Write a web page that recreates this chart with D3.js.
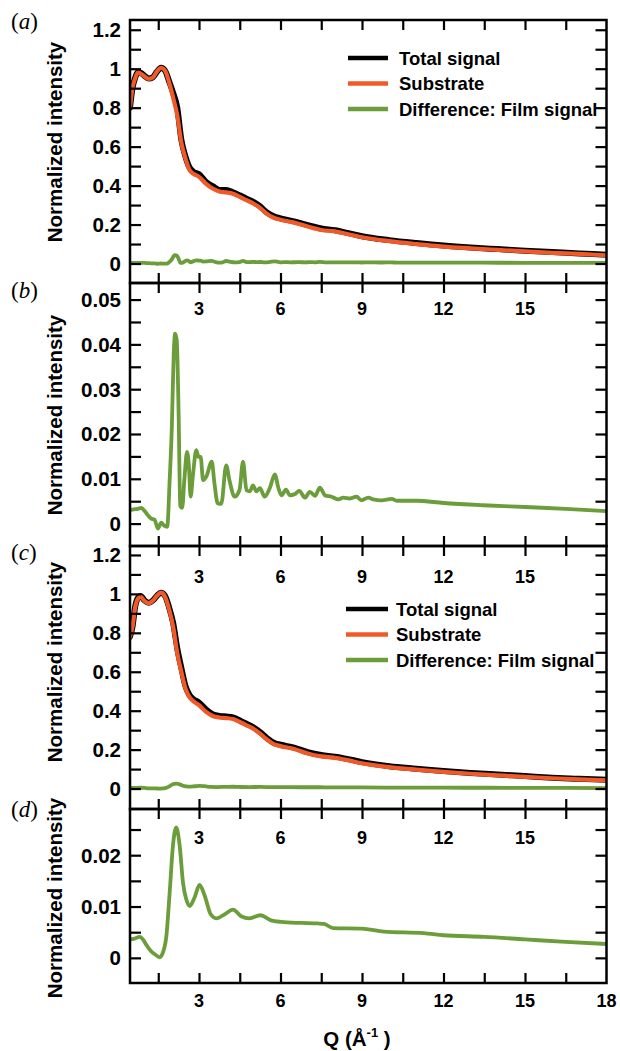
<!DOCTYPE html>
<meta charset="utf-8">
<style>
    html, body { margin: 0; padding: 0; background: #fff; }
    svg { display: block; }
    text { font-family: "Liberation Sans", Arial, sans-serif; font-weight: bold; }
</style>
<body>
<svg width="620" height="1051"></svg>
<script src="https://cdn.jsdelivr.net/npm/d3@7"></script>
<script>
// Q grid for the full curves (panels a and c)
const qFull = [0.46, 0.55, 0.65, 0.75, 0.85, 1.0, 1.15, 1.3, 1.45, 1.6, 1.75, 1.9, 2.05, 2.2, 2.35, 2.5, 2.65, 2.8, 3.0, 3.25,
    3.5, 3.75, 4.0, 4.25, 4.5, 4.75, 5.0, 5.25, 5.5, 5.75, 6.0, 6.5, 7.0, 7.5, 8.0, 8.5, 9, 10, 11, 12, 13, 14, 15, 16, 17, 18];

const substrateA = [0.80, 0.90, 0.95, 0.98, 0.975, 0.96, 0.948, 0.955, 0.985, 1.005, 0.99, 0.93, 0.85, 0.76, 0.62, 0.54, 0.48, 0.46, 0.445, 0.41,
    0.385, 0.37, 0.365, 0.358, 0.342, 0.325, 0.308, 0.285, 0.255, 0.235, 0.225, 0.21, 0.19, 0.172, 0.165, 0.15, 0.135, 0.115, 0.1, 0.087, 0.078, 0.07, 0.062, 0.055, 0.049, 0.042];
const totalA = [0.80, 0.90, 0.953, 0.983, 0.979, 0.963, 0.95, 0.956, 0.984, 1.005, 0.99, 0.935, 0.875, 0.80, 0.635, 0.55, 0.493, 0.47, 0.458, 0.42,
    0.397, 0.378, 0.378, 0.366, 0.35, 0.333, 0.316, 0.293, 0.262, 0.243, 0.232, 0.216, 0.197, 0.18, 0.171, 0.156, 0.14, 0.12, 0.105, 0.092, 0.082, 0.074, 0.066, 0.059, 0.052, 0.045];

const substrateC = [0.78, 0.83, 0.93, 0.975, 0.985, 0.963, 0.952, 0.965, 0.99, 1.006, 0.985, 0.92, 0.83, 0.695, 0.6, 0.515, 0.47, 0.448, 0.428, 0.395,
    0.373, 0.365, 0.362, 0.357, 0.342, 0.325, 0.307, 0.282, 0.252, 0.228, 0.218, 0.203, 0.18, 0.165, 0.158, 0.145, 0.13, 0.11, 0.097, 0.086, 0.076, 0.068, 0.06, 0.053, 0.047, 0.042];
const totalC = [0.78, 0.83, 0.934, 0.979, 0.989, 0.966, 0.954, 0.966, 0.99, 1.006, 0.99, 0.93, 0.85, 0.72, 0.62, 0.527, 0.48, 0.459, 0.442, 0.407,
    0.382, 0.373, 0.37, 0.366, 0.35, 0.333, 0.315, 0.29, 0.259, 0.235, 0.225, 0.21, 0.187, 0.172, 0.164, 0.151, 0.136, 0.115, 0.102, 0.09, 0.08, 0.072, 0.064, 0.056, 0.05, 0.045];

// film (difference) signal, panel b
const qDiffB = [0.46, 0.6, 0.75, 0.88, 1.0, 1.1, 1.24, 1.36, 1.49, 1.61, 1.71, 1.83, 1.92, 2.0, 2.07, 2.12, 2.18, 2.25, 2.31, 2.38,
    2.46, 2.56, 2.63, 2.69, 2.78, 2.9, 2.98, 3.06, 3.15, 3.27, 3.47, 3.57, 3.69, 3.82, 4.0, 4.12, 4.31, 4.49, 4.62, 4.75,
    4.87, 4.99, 5.11, 5.24, 5.42, 5.61, 5.79, 5.92, 6.04, 6.2, 6.35, 6.53, 6.69, 6.9, 7.08, 7.27, 7.45, 7.64, 7.88, 8.13,
    8.31, 8.56, 8.8, 8.98, 9.23, 9.41, 9.72, 10.1, 10.28, 11, 12, 13.45, 15, 16.5, 18];
const diffB = [0.003, 0.0032, 0.0033, 0.0035, 0.0028, 0.002, 0.0011, 0.0009, -0.0011, 0.0002, -0.0004, -0.0007, 0.0097, 0.0216, 0.038, 0.0424, 0.041, 0.0245, 0.004, 0.0035,
    0.0097, 0.016, 0.0126, 0.006, 0.011, 0.0164, 0.0149, 0.0149, 0.0097, 0.0105, 0.0138, 0.0089, 0.0045, 0.0044, 0.013, 0.0097, 0.006, 0.0075, 0.0138, 0.0074,
    0.0072, 0.0085, 0.0072, 0.0079, 0.006, 0.008, 0.011, 0.008, 0.0063, 0.0076, 0.0063, 0.0066, 0.0073, 0.0058, 0.0071, 0.0062, 0.008, 0.0063, 0.006, 0.0054,
    0.0058, 0.0056, 0.006, 0.0052, 0.0058, 0.0054, 0.0052, 0.0055, 0.0051, 0.0051, 0.0046, 0.0041, 0.0037, 0.0033, 0.0028];

// film (difference) signal, panel d
const qDiffD = [0.46, 0.6, 0.82, 0.95, 1.04, 1.22, 1.4, 1.55, 1.67, 1.8, 1.92, 2.04, 2.16, 2.29, 2.41, 2.53, 2.66, 2.84, 3.02, 3.21,
    3.43, 3.64, 3.95, 4.25, 4.55, 4.86, 5.26, 5.65, 6.02, 6.75, 7.37, 7.6, 7.94, 9.0, 9.8, 11.27, 12, 13.5, 15, 16.5, 18];
const diffD = [0.0036, 0.0037, 0.0041, 0.0035, 0.0027, 0.0014, 0.0006, 0.0001, 0.001, 0.0043, 0.0127, 0.0218, 0.0254, 0.0218, 0.0147, 0.0114, 0.0101, 0.0118, 0.0142, 0.0121,
    0.0085, 0.0077, 0.0085, 0.0094, 0.0081, 0.0077, 0.0083, 0.0073, 0.007, 0.0068, 0.0067, 0.0066, 0.0058, 0.0057, 0.0051, 0.0048, 0.0044, 0.0041, 0.0036, 0.0031, 0.0027];

const xTickLabels = [3, 6, 9, 12, 15];
const xTickLabelsBottom = [3, 6, 9, 12, 15, 18];
const legendLabels = ["Total signal", "Substrate", "Difference: Film signal"];

const colors = { total: "#000000", substrate: "#f05a28", film: "#6b9d3a" };

const svg = d3.select("svg");
const left = 130, right = 606.5;
const x = d3.scaleLinear().domain([0.46, 18]).range([left, right]);
const xTicks = d3.range(1.5, 17, 1.5);

const panels = [
    { id: "a", top: 20, bottom: 283, domain: [-0.1, 1.25], major: d3.range(0, 1.21, 0.2), minor: d3.range(0.1, 1.2, 0.2),
      labelY: 29, titleY: 142, legendY: 58, legendX: 348, textX: 399,
      series: [[qFull, totalA, "total", 6], [qFull, substrateA, "substrate", 4.2], [qDiffB, diffB, "film", 3.8]] },
    { id: "b", top: 283, bottom: 546, domain: [-0.005, 0.0537], major: d3.range(0, 0.0501, 0.01), minor: d3.range(0.005, 0.05, 0.01),
      labelY: 298, titleY: 415, tickLabelY: 315,
      series: [[qDiffB, diffB, "film", 3.8]] },
    { id: "c", top: 546, bottom: 809, domain: [-0.105, 1.246], major: d3.range(0, 1.21, 0.2), minor: d3.range(0.1, 1.2, 0.2),
      labelY: 560, titleY: 662, tickLabelY: 583, legendY: 609, legendX: 346, textX: 396,
      series: [[qFull, totalC, "total", 6], [qFull, substrateC, "substrate", 4.2], [qDiffD, diffD, "film", 3.8]] },
    { id: "d", top: 809, bottom: 983, domain: [-0.0049, 0.029], major: d3.range(0, 0.0201, 0.01), minor: d3.range(0.005, 0.026, 0.01),
      labelY: 817, titleY: 898, tickLabelY: 844,
      series: [[qDiffD, diffD, "film", 3.8]] }
];

const fmt = v => String(+v.toFixed(3));

panels.forEach(p => {
    const y = d3.scaleLinear().domain(p.domain).range([p.bottom, p.top]);
    const g = svg.append("g");

    g.append("clipPath").attr("id", "clip-" + p.id)
        .append("rect").attr("x", left).attr("y", p.top).attr("width", right - left).attr("height", p.bottom - p.top);

    const line = d3.line()
        .x(d => x(d[0]))
        .y(d => y(d[1]))
        .curve(d3.curveMonotoneX);

    const plot = g.append("g").attr("clip-path", `url(#clip-${p.id})`);
    p.series.forEach(([qs, vs, key, w]) => {
        plot.append("path")
            .datum(qs.map((q, i) => [q, vs[i]]))
            .attr("d", line)
            .attr("fill", "none")
            .attr("stroke", colors[key])
            .attr("stroke-width", w)
            .attr("stroke-linejoin", "round")
            .attr("stroke-linecap", "round");
    });

    // ticks pointing inward on all four sides
    const yTicks = p.major.concat(p.minor);
    g.append("g").call(d3.axisRight(y).tickValues(yTicks).tickSize(11).tickFormat(""))
        .attr("transform", `translate(${left},0)`);
    g.append("g").call(d3.axisLeft(y).tickValues(yTicks).tickSize(11).tickFormat(""))
        .attr("transform", `translate(${right},0)`);
    g.append("g").call(d3.axisBottom(x).tickValues(xTicks).tickSize(10).tickFormat(""))
        .attr("transform", `translate(0,${p.top})`);
    g.append("g").call(d3.axisTop(x).tickValues(xTicks).tickSize(10).tickFormat(""))
        .attr("transform", `translate(0,${p.bottom})`);
    g.selectAll(".domain").remove();
    g.selectAll(".tick line").attr("stroke", "#000").attr("stroke-width", 2.2);

    // y tick labels
    g.selectAll(".ylab").data(p.major).join("text")
        .attr("x", 121).attr("y", d => y(d) + 7.5)
        .attr("text-anchor", "end")
        .attr("font-size", 20.5)
        .text(fmt);

    // x tick labels inside the top of panels b, c, d
    if (p.tickLabelY) {
        g.selectAll(".xlab").data(xTickLabels).join("text")
            .attr("x", d => x(d)).attr("y", p.tickLabelY)
            .attr("text-anchor", "middle")
            .attr("font-size", 18)
            .text(d => d);
    }

    // frame
    g.append("rect").attr("x", left).attr("y", p.top)
        .attr("width", right - left).attr("height", p.bottom - p.top)
        .attr("fill", "none").attr("stroke", "#000").attr("stroke-width", 2.5);

    // y title
    g.append("text")
        .attr("transform", `translate(61.5,${p.titleY}) rotate(-90)`)
        .attr("text-anchor", "middle")
        .attr("font-size", 20.5)
        .text("Normalized intensity");

    // panel label
    const lab = g.append("text").attr("x", 11).attr("y", p.labelY)
        .style("font-family", "'Liberation Serif', 'DejaVu Serif', serif")
        .style("font-weight", "normal")
        .attr("font-size", 23);
    lab.append("tspan").text("(");
    lab.append("tspan").style("font-style", "italic").text(p.id);
    lab.append("tspan").text(")");

    // legend
    if (p.legendY) {
        const keys = ["total", "substrate", "film"];
        keys.forEach((k, i) => {
            const ly = p.legendY + i * 25.5;
            g.append("line").attr("x1", p.legendX).attr("x2", 388).attr("y1", ly).attr("y2", ly)
                .attr("stroke", colors[k]).attr("stroke-width", 4.5);
            g.append("text").attr("x", p.textX).attr("y", ly + 6.5)
                .attr("font-size", 18.5).text(legendLabels[i]);
        });
    }
});

// bottom x tick labels and title
svg.selectAll(".xb").data(xTickLabelsBottom).join("text")
    .attr("x", d => x(d)).attr("y", 1007)
    .attr("text-anchor", "middle")
    .attr("font-size", 18)
    .text(d => d);

const xt = svg.append("text").attr("x", 357).attr("y", 1046)
    .attr("text-anchor", "middle").attr("font-size", 20.5);
xt.append("tspan").text("Q (Å");
xt.append("tspan").attr("dy", -9).attr("font-size", 13).text("-1");
xt.append("tspan").attr("dy", 9).text(" )");
</script>
</body>
